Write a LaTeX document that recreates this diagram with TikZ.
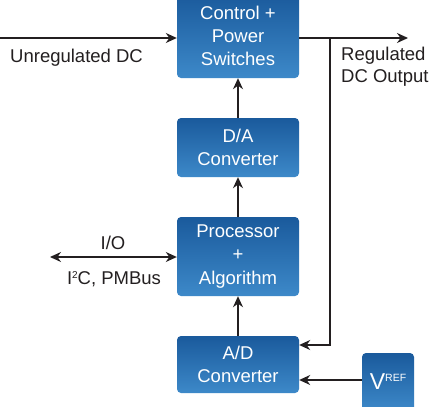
\documentclass[tikz,border=0pt]{standalone}
\usepackage{fontspec}
\setmainfont{Liberation Sans}
\usetikzlibrary{arrows.meta}
\definecolor{boxtop}{HTML}{1A5A9C}
\definecolor{boxbot}{HTML}{3D89C9}
\definecolor{linecol}{HTML}{231F20}
\begin{document}
\begin{tikzpicture}[x=1pt,y=-1pt,
  blk/.style={rectangle, rounded corners=4pt, top color=boxtop, bottom color=boxbot,
    draw=none, text=white, minimum width=122pt, align=center, inner sep=0pt,
    font=\fontsize{18.5}{23}\selectfont},
  lbl/.style={inner sep=0pt, text=linecol, font=\fontsize{18.5}{22}\selectfont},
  arr/.style={draw=linecol, line width=1.4pt, -{Stealth[length=11pt,width=10pt]}},
  arrtwo/.style={draw=linecol, line width=1.4pt, {Stealth[length=11pt,width=10pt]}-{Stealth[length=11pt,width=10pt]}}]
\useasboundingbox (0,0) rectangle (429,407);
\clip (0,0) rectangle (429,407);
\fill[white] (0,0) rectangle (429,407);
% blocks
\node[blk, minimum height=84pt] (ctrl) at (238,36) {Control +\\Power\\Switches};
\node[blk, minimum height=59pt] (da) at (238,147.5) {D/A\\Converter};
\node[blk, minimum height=79pt, font=\fontsize{18.5}{23.5}\selectfont] (proc) at (238,256.5) {Processor\\+\\Algorithm};
\node[blk, minimum height=57pt] (ad) at (238,364.5) {A/D\\Converter};
\node[blk, minimum width=52pt, minimum height=58pt, rounded corners=4pt] (vref) at (388,382)
  {\raisebox{0pt}{\fontsize{23}{23}\selectfont V}\raisebox{8.5pt}{\fontsize{10.5}{10.5}\selectfont REF}};
% coordinates
\coordinate (uin) at (0,38);
\coordinate (out) at (408,38);
\coordinate (fb) at (330,38);
\coordinate (fbend) at (330,345);
\coordinate (vry) at (0,380);
\coordinate (io) at (50,257);
% connectors
\draw[arr] (uin) -- (uin -| ctrl.west);
\draw[arr] (uin -| ctrl.east) -- (out);
\draw[arr] (fb) -- (fbend) -- (fbend -| ad.east);
\draw[arr] (vref.west |- vry) -- (ad.east |- vry);
\draw[arr] (ad) -- (proc);
\draw[arr] (proc) -- (da);
\draw[arr] (da) -- (ctrl);
\draw[arrtwo] (io) -- (io -| proc.west);
% labels
\node[lbl, anchor=west] (ulbl) at (10,58) {Unregulated DC};
\node[lbl, anchor=north west, align=left] (rlbl) at (341,47) {Regulated\\DC Output};
\node[lbl] (iolbl) at (113,243) {I/O};
\node[lbl] (i2c) at (114,279) {I\raisebox{6.5pt}{\fontsize{10}{10}\selectfont 2}C, PMBus};
\end{tikzpicture}
\end{document}
